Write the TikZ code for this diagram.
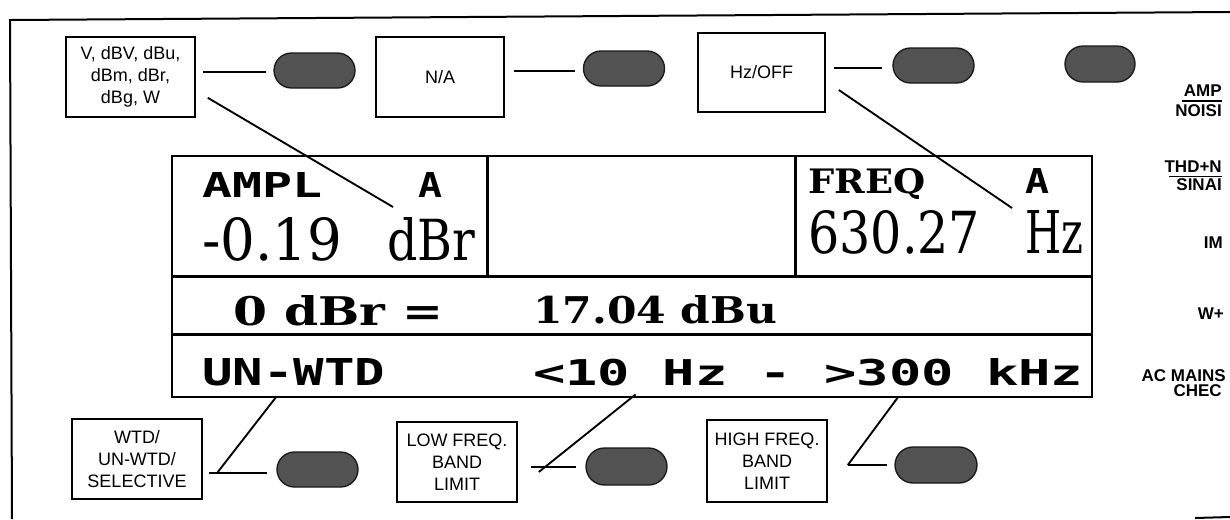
\documentclass[tikz,border=0pt]{standalone}
\usepackage{fontspec}
\setmainfont{Liberation Sans}
\newfontfamily\dmono{DejaVu Sans Mono}
\newfontfamily\dserif{DejaVu Serif}
\usetikzlibrary{shapes.misc,calc}
\begin{document}
\begin{tikzpicture}[x=0.75pt,y=-0.75pt,
 lbl/.style={draw,line width=1.2pt,align=center,font=\fontsize{13.5}{16.5}\selectfont,inner sep=0pt,minimum height=60pt},
 pill/.style={rounded rectangle,draw=black!90,fill=black!68,line width=1pt,minimum width=60.75pt,minimum height=26.25pt,inner sep=0pt},
 lead/.style={line width=1.4pt},
 disptxt/.style={anchor=north west,inner sep=0pt},
 side/.style={font=\bfseries\fontsize{12.75}{14}\selectfont,inner sep=0pt,anchor=east},
 framel/.style={line width=1.5pt},
 cellline/.style={line width=2.2pt}
]
\useasboundingbox (0,0) rectangle (1230,519);
% outer frame
\draw[framel] (1230,12) -- (10,20) -- (12,519);
\draw[framel] (1195,518) -- (1230,517);

% top label boxes
\node[lbl,minimum width=96.75pt] (box1) at (130.5,77) {V, dBV, dBu,\\dBm, dBr,\\dBg, W};
\node[lbl,minimum width=96pt] (box2) at (440,77) {N/A};
\node[lbl,minimum width=95.25pt,minimum height=59.25pt] (box3) at (761.5,72.5) {Hz/OFF};

% top pills
\node[pill] (p1) at (314.5,70.5) {};
\node[pill] (p2) at (624,68.5) {};
\node[pill] (p3) at (933.5,65.5) {};
\node[pill,minimum width=52.5pt,minimum height=27pt] (p4) at (1100,64) {};

% bottom label boxes
\node[lbl,minimum width=97.5pt] (b1) at (137,459) {WTD/\\UN-WTD/\\SELECTIVE};
\node[lbl,minimum width=90pt] (b2) at (457,462) {LOW FREQ.\\BAND\\LIMIT};
\node[lbl,minimum width=90pt,minimum height=61.5pt] (b3) at (767,461) {HIGH FREQ.\\BAND\\LIMIT};

% bottom pills
\node[pill] (p5) at (317.5,469.5) {};
\node[pill,minimum height=27.75pt] (p6) at (626.5,466.5) {};
\node[pill,minimum width=61.5pt,minimum height=27pt] (p7) at (936,465) {};

% display
\node[draw,cellline,minimum width=690pt,minimum height=180.75pt,inner sep=0pt] (disp) at (632,276.5) {};
\draw[cellline] ($(disp.north west)+(0,122)$) -- ($(disp.north east)+(0,122)$);
\draw[cellline] ($(disp.north west)+(0,180)$) -- ($(disp.north east)+(0,180)$);
\draw[cellline] ($(disp.north west)+(317,0)$) -- ($(disp.north west)+(317,122)$);
\draw[cellline] ($(disp.north west)+(625,0)$) -- ($(disp.north west)+(625,122)$);

% display texts
\node[disptxt] (ampl) at (202,172) {\resizebox{90pt}{18.75pt}{\dmono\bfseries AMPL}};
\node[disptxt] (achl) at (418,172) {\resizebox{18pt}{18.75pt}{\dmono\bfseries A}};
\node[disptxt] (val1) at (202,217) {\resizebox{105pt}{32.25pt}{\dserif -0.19}};
\node[disptxt] (dbr) at (387,217) {\resizebox{66pt}{32.25pt}{\dserif dBr}};
\node[disptxt] (freq) at (808,168) {\resizebox{87.75pt}{18.75pt}{\dserif\bfseries FREQ}};
\node[disptxt] (achr) at (1025,168) {\resizebox{18pt}{18.75pt}{\dmono\bfseries A}};
\node[disptxt] (val2) at (808,210) {\resizebox{129pt}{32.25pt}{\dserif 630.27}};
\node[disptxt] (hz) at (1025,210) {\resizebox{43.5pt}{32.25pt}{\dserif Hz}};
\node[disptxt] (ref0) at (233,295) {\resizebox{157.5pt}{22.5pt}{\dserif\bfseries 0 dBr =}};
\node[disptxt] (ref1) at (533,295) {\resizebox{183pt}{21pt}{\dserif\bfseries 17.04 dBu}};
\node[disptxt] (unwtd) at (202,358) {\resizebox{137.25pt}{20.25pt}{\dmono\bfseries UN-WTD}};
\node[disptxt] (band) at (533,358) {\resizebox{412.5pt}{20.25pt}{\dmono\bfseries <10 Hz - >300 kHz}};

% top connectors
\draw[lead] ($(box1.east|-p1.west)+(7,1.5)$) -- ($(p1.west)+(-7,1.5)$);
\draw[lead] ($(box1.south east)+(12,-20)$) -- ($(dbr.north west)+(6,-10)$);
\draw[lead] ($(box2.east|-p2.west)+(9,2.5)$) -- ($(p2.west)+(-8,2.5)$);
\draw[lead] ($(box3.east|-p3.west)+(8,2.5)$) -- ($(p3.west)+(-10,2.5)$);
\draw[lead] ($(box3.east)+(13,17.5)$) -- ($(hz.north west)+(-13,-2)$);

% bottom connectors
\draw[lead] ($(b1.east|-p5.west)+(6,3.5)$) -- ($(p5.west)+(-9,3.5)$);
\draw[lead] ($(b1.east)+(15,13)$) -- ($(disp.south west)+(106,-2)$);
\draw[lead] ($(b2.east|-p6.west)+(13,0.5)$) -- ($(p6.west)+(-9,0.5)$);
\draw[lead] ($(b2.east)+(21,10)$) -- ($(disp.south west)+(465,-4)$);
\draw[lead] ($(b3.east|-p7.west)+(20,0)$) -- ($(p7.west)+(-7,0)$);
\draw[lead] ($(b3.east)+(20,4)$) -- ($(disp.south west)+(728,-2)$);

% right side labels
\node[side] (amp) at (1222,91) {AMP};
\node[side] (noise) at (1222,111) {NOISI};
\draw[line width=1pt] ($(amp.south east)+(0,4)$) -- ++(-40,0);
\node[side] (thd) at (1222,167) {THD+N};
\node[side] (sinad) at (1222,185) {SINAI};
\draw[line width=1pt] ($(thd.south east)+(0,3.5)$) -- ++(-53,0);
\node[side] (im) at (1223,243) {IM};
\node[side] (wf) at (1224,314) {W+};
\node[side] (acm) at (1226,376) {AC MAINS};
\node[side] (chec) at (1222,391) {CHEC};
\end{tikzpicture}
\end{document}
